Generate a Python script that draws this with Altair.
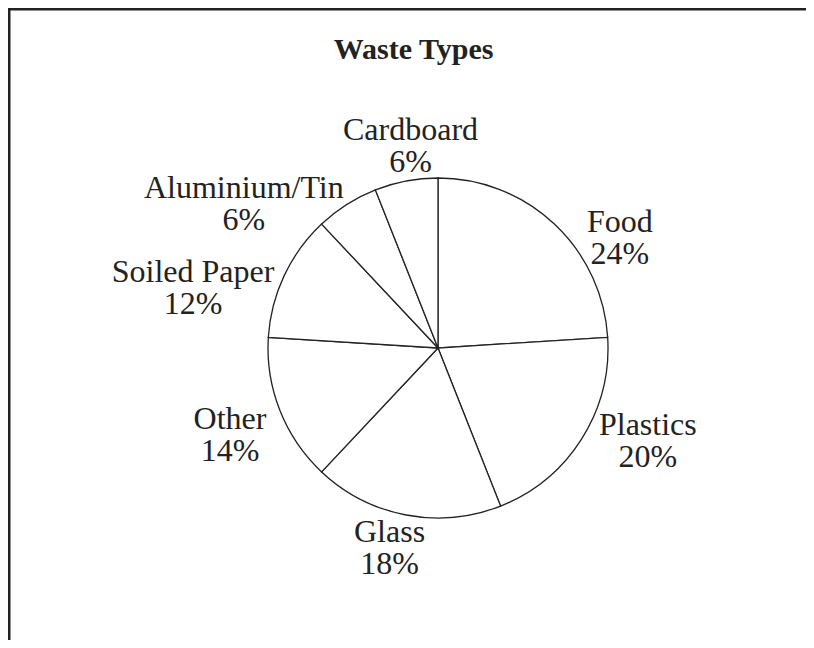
import altair as alt
import pandas as pd

# ---- data ----
categories = ["Food", "Plastics", "Glass", "Other", "Soiled Paper", "Aluminium/Tin", "Cardboard"]
percentages = [24, 20, 18, 14, 12, 6, 6]
title_text = "Waste Types"

# ---- layout / style (not data) ----
W, H = 798, 632
CX, CY = 430, 340          # pie centre inside the chart
PIE_R = 170
LABEL_R = 200
FONT = "Liberation Serif"
# per-label pixel nudges from the slice mid-angle point
LABEL_NUDGE = {
    "Food": (45, 30),
    "Plastics": (41, -20),
    "Glass": (-11, -2),
    "Other": (-22, 7),
    "Soiled Paper": (-64, 19),
    "Aluminium/Tin": (-87, 19),
    "Cardboard": (10, -12),
}

df = pd.DataFrame({
    "idx": list(range(len(categories))),
    "category": categories,
    "pct": percentages,
})
df["label"] = [f"{c}\n{p}%" for c, p in zip(categories, percentages)]

theta_scale = alt.Scale(domain=[0, 100])

pie = alt.Chart(df).mark_arc(
    fill="white", stroke="#222222", strokeWidth=1.3, radius=PIE_R
).encode(
    theta=alt.Theta("pct:Q", stack=True, scale=theta_scale),
    order=alt.Order("idx:Q"),
    x=alt.value(CX),
    y=alt.value(CY),
)

base = alt.Chart(df).transform_window(
    cum="sum(pct)", sort=[alt.SortField("idx")]
).transform_calculate(
    mid="datum.cum - datum.pct / 2"
)

label_layers = []
for c in categories:
    ndx, ndy = LABEL_NUDGE[c]
    label_layers.append(
        base.transform_filter(alt.datum.category == c).mark_text(
            radius=LABEL_R, dx=ndx, dy=ndy, font=FONT, fontSize=32,
            lineHeight=32, lineBreak="\n", align="center",
            baseline="alphabetic", color="#222222"
        ).encode(
            theta=alt.Theta("mid:Q", stack=None, scale=theta_scale),
            text="label:N",
            x=alt.value(CX),
            y=alt.value(CY),
        )
    )

one = pd.DataFrame({"a": [0]})
title = alt.Chart(one).mark_text(
    text=title_text, font=FONT, fontSize=30, fontWeight="bold",
    align="center", baseline="alphabetic", color="#222222"
).encode(x=alt.value(405.5), y=alt.value(51))

top_rule = alt.Chart(one).mark_rule(color="#222222", strokeWidth=3).encode(
    x=alt.value(0), x2=alt.value(W), y=alt.value(1)
)
left_rule = alt.Chart(one).mark_rule(color="#222222", strokeWidth=3).encode(
    x=alt.value(1), y=alt.value(0), y2=alt.value(H)
)

chart = alt.layer(pie, *label_layers, title, top_rule, left_rule).properties(
    width=W, height=H, autosize=alt.AutoSizeParams(type="none"), padding=0,
    background="white",
).configure_view(stroke=None)

chart.save("out.html", embed_options={"renderer": "svg", "actions": False})
